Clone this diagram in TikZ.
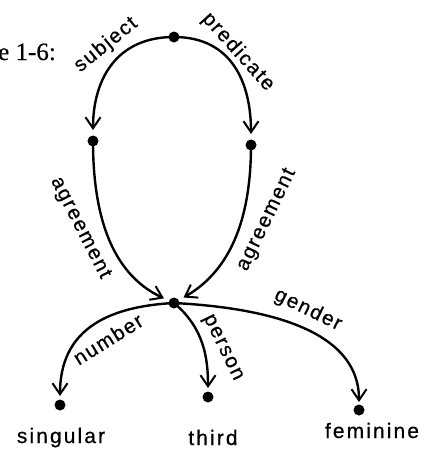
\documentclass[tikz,border=0pt]{standalone}
\usepackage{fontspec}
\setmainfont{Liberation Sans}[LetterSpace=8,FakeBold=0.5]
\newfontfamily\figserif{Liberation Serif}[FakeBold=0.4]
\newfontfamily\leaffont{Liberation Sans}[LetterSpace=10,FakeBold=0.5]
\usetikzlibrary{arrows.meta}
\begin{document}
\begin{tikzpicture}[x=1pt,y=-1pt,
  dot/.style={circle,fill=black,inner sep=0pt,minimum size=11pt},
  arc/.style={line width=2.4pt,-{Straight Barb[length=11pt,width=15pt,line width=2pt]},shorten >=11pt},
  lab/.style={font=\fontsize{20.5}{22}\selectfont,inner sep=0pt},
  leaf/.style={font=\leaffont\fontsize{21}{23}\selectfont,inner sep=0pt,anchor=base}]
\useasboundingbox (0,0) rectangle (425,450);
\node[font=\figserif\fontsize{25}{27}\selectfont,anchor=base west,inner sep=0pt] (fig) at (-2,60) {e 1-6:};
\node[dot] (top) at (174,37) {};
\node[dot] (lm) at (93,141) {};
\node[dot] (rm) at (251,145) {};
\node[dot] (c) at (174,303) {};
\node[dot] (s) at (60,405) {};
\node[dot] (t) at (208,397) {};
\node[dot] (f) at (359,410) {};
\draw[arc] (top.center) to[out=180,in=90,looseness=1.15] (lm.center);
\draw[arc] (top.center) to[out=0,in=90,looseness=1.15] (rm.center);
\draw[arc] (lm.center) to[out=-90,in=155] (c.center);
\draw[arc] (rm.center) to[out=-90,in=30] (c.center);
\draw[arc,shorten >=9pt] (c.center) to[out=183,in=90,looseness=1.2] (s.center);
\draw[arc,shorten >=9pt] (c.center) to[out=-40,in=90] (t.center);
\draw[arc,shorten >=8pt] (c.center) to[out=-3,in=90] (f.center);
\node[lab,rotate=39] (l1) at (106,45) {subject};
\node[lab,rotate=-48] (l2) at (238,52) {predicate};
\node[lab,rotate=-63] (l3) at (80,228) {agreement};
\node[lab,rotate=64] (l4) at (267,220) {agreement};
\node[lab,rotate=32] (l5) at (108,339) {number};
\node[lab,rotate=-64] (l6) at (222,348) {person};
\node[lab,rotate=-26] (l7) at (308,310) {gender};
\node[leaf] (n1) at (61,443) {singular};
\node[leaf] (n2) at (213,445) {third};
\node[leaf] (n3) at (372,438) {feminine};
\end{tikzpicture}
\end{document}
